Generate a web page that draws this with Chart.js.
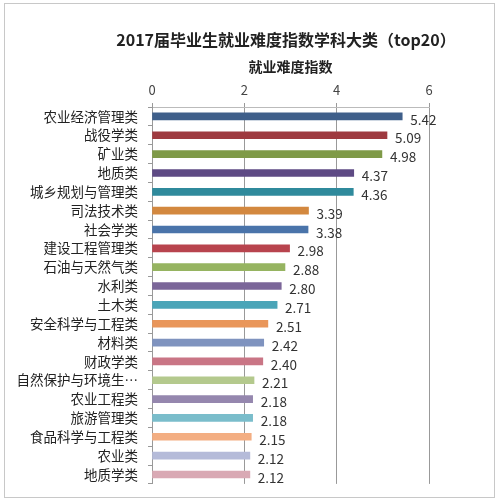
<!DOCTYPE html>
<html>
<head>
<meta charset="utf-8">
<script src="https://cdn.jsdelivr.net/npm/chart.js@4/dist/chart.umd.min.js"></script>
<style>
    html, body { margin: 0; padding: 0; background: #fff; }
    #wrap { width: 500px; height: 502px; }
</style>
</head>
<body>
<div id="wrap"><canvas id="grafico"></canvas></div>
<script>
// datos del grafico
var titulo = '2017届毕业生就业难度指数学科大类（top20）';
var categorias = ['农业经济管理类', '战役学类', '矿业类', '地质类', '城乡规划与管理类', '司法技术类', '社会学类',
    '建设工程管理类', '石油与天然气类', '水利类', '土木类', '安全科学与工程类', '材料类', '财政学类',
    '自然保护与环境生…', '农业工程类', '旅游管理类', '食品科学与工程类', '农业类', '地质学类'];
var valores = [5.42, 5.09, 4.98, 4.37, 4.36, 3.39, 3.38, 2.98, 2.88, 2.80, 2.71, 2.51, 2.42, 2.40,
    2.21, 2.18, 2.18, 2.15, 2.12, 2.12];
var ticksX = [0, 2, 4, 6];

var colores = ['#3f5f8a', '#9e3a40', '#7f9a48', '#5e4a84', '#2f8a9c', '#d3883f', '#4a74aa',
    '#b8444e', '#96b461', '#7b6699', '#4ba5b8', '#e9965a', '#7f93bf', '#c97585',
    '#b4c98d', '#9587ae', '#7abdcb', '#f3ae82', '#b5bbd9', '#d9a9b4'];

var fuente = '"Noto Sans CJK SC", "Noto Sans", sans-serif';

// etiquetas de valor al final de cada barra
var etiquetas = {
    id: 'etiquetas',
    afterDatasetsDraw: function (chart) {
        var ctx = chart.ctx;
        var meta = chart.getDatasetMeta(0);
        ctx.save();
        ctx.font = '13.5px ' + fuente;
        ctx.fillStyle = '#333';
        ctx.textAlign = 'left';
        ctx.textBaseline = 'middle';
        meta.data.forEach(function (bar, i) {
            ctx.fillText(valores[i].toFixed(2), bar.x + 8, bar.y + 3);
        });
        ctx.restore();
    }
};

// marco exterior y titulo (centrado sobre el area del grafico, como en excel)
var marco = {
    id: 'marco',
    beforeDraw: function (chart) {
        var ctx = chart.ctx;
        ctx.save();
        ctx.fillStyle = '#fff';
        ctx.fillRect(0, 0, chart.width, chart.height);
        ctx.strokeStyle = '#c8c8c8';
        ctx.lineWidth = 1;
        ctx.strokeRect(4.5, 3.5, 490, 494);
        ctx.font = 'bold 16px ' + fuente;
        ctx.fillStyle = '#222';
        ctx.textAlign = 'center';
        ctx.textBaseline = 'middle';
        ctx.fillText(titulo, 286, 40);
        ctx.restore();
    }
};

new Chart(document.getElementById('grafico').getContext('2d'), {
    type: 'bar',
    data: {
        labels: categorias,
        datasets: [{
                data: valores,
                backgroundColor: colores,
                borderWidth: 0,
                barThickness: 7
            }]
    },
    options: {
        indexAxis: 'y',
        responsive: true,
        maintainAspectRatio: false,
        animation: false,
        layout: {
            padding: {left: 10, right: 71, top: 58, bottom: 12}
        },
        plugins: {
            legend: {display: false},
            tooltip: {enabled: false},
            title: {display: false}
        },
        scales: {
            x: {
                position: 'top',
                min: 0,
                max: 6,
                afterBuildTicks: function (scale) {
                    scale.ticks = ticksX.map(function (v) {
                        return {value: v};
                    });
                },
                afterFit: function (scale) {
                    scale.height = 49;
                },
                ticks: {
                    color: '#444',
                    font: {family: fuente, size: 13},
                    padding: 5
                },
                grid: {
                    color: '#999',
                    tickLength: 4
                },
                border: {display: true, color: '#bbb'},
                title: {
                    display: true,
                    text: '就业难度指数',
                    color: '#222',
                    font: {family: fuente, size: 14, weight: 'bold'},
                    padding: {top: 0, bottom: 0}
                }
            },
            y: {
                afterFit: function (scale) {
                    scale.width = 142;
                },
                ticks: {
                    color: '#222',
                    font: {family: fuente, size: 13.5},
                    padding: 10,
                    autoSkip: false
                },
                grid: {
                    drawOnChartArea: false,
                    color: '#999',
                    tickLength: 4
                },
                border: {display: true, color: '#999'}
            }
        }
    },
    plugins: [marco, etiquetas]
});
</script>
</body>
</html>
